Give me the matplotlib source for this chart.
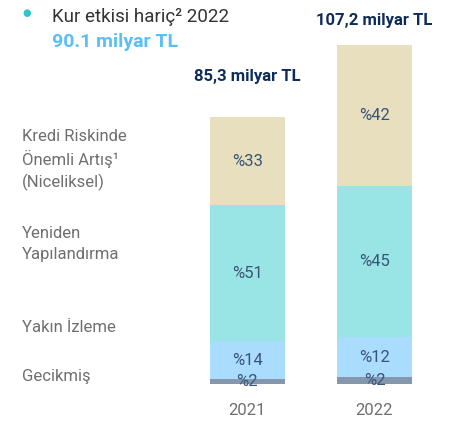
import matplotlib.pyplot as plt
import numpy as np

# Stacked shares of stage-2 loans by reason, 2021 vs 2022

years = ['2021', '2022']
totals = [85.3, 107.2]                     # milyar TL
totals_text = ['85,3 milyar TL', '107,2 milyar TL']

categories = ['Gecikmiş', 'Yakın İzleme', 'Yeniden\nYapılandırma',
              'Kredi Riskinde\nÖnemli Artış¹\n(Niceliksel)']
shares = {
    '2021': [2, 14, 51, 33],
    '2022': [2, 12, 45, 42],
}

colors = ['#8497ad', '#aadcfd', '#99e5e5', '#e8dfbf']
navy = '#0d2c5a'
label_col = '#3a5478'
gray = '#6f6f6f'

plt.rcParams['font.family'] = ['Roboto', 'DejaVu Sans']

fig = plt.figure(figsize=(4.69, 4.24), dpi=100)
ax = fig.add_axes([0.338, 0.0943, 0.65, 0.885])

bar_w = 0.59
for i, yr in enumerate(years):
    bottom = 0.0
    for pct, c in zip(shares[yr], colors):
        h = totals[i] * pct / 100.0
        ax.bar(i, h, bottom=bottom, width=bar_w, color=c, linewidth=0)
        ax.text(i, bottom + h / 2, '%{}'.format(pct), ha='center', va='center',
                fontsize=12, color=label_col)
        bottom += h

ax.set_xlim(-0.7, 1.7)
ax.set_ylim(0, 120)
ax.axis('off')

# totals above the bars
ax.text(0, totals[0] + 10.5, totals_text[0], ha='center', va='bottom',
        fontsize=12, fontweight='bold', color=navy)
ax.text(1, totals[1] + 6.5, totals_text[1], ha='center', va='bottom',
        fontsize=12, fontweight='bold', color=navy)

# year labels under the bars
for i, yr in enumerate(years):
    ax.text(i, -8.5, yr, ha='center', va='center', fontsize=12, color=gray)

# category labels on the left (figure pixel positions from top)
cat_y = [376, 327, 244, 160]
for name, py in zip(categories, cat_y):
    fig.text(22 / 469, 1 - py / 424, name, ha='left', va='center',
             fontsize=12, color=gray, linespacing=1.42)

# header note
fig.text(27 / 469, 1 - 13 / 424, '●', ha='center', va='center',
         fontsize=7, color='#2cc5c8')
fig.text(52 / 469, 1 - 17 / 424, 'Kur etkisi hariç² 2022', ha='left',
         va='center', fontsize=13.5, color='#333333')
fig.text(52 / 469, 1 - 42 / 424, '90.1 milyar TL', ha='left', va='center',
         fontsize=14, fontweight='bold', color='#5bbff7')

fig.savefig('out.png', dpi=100)
